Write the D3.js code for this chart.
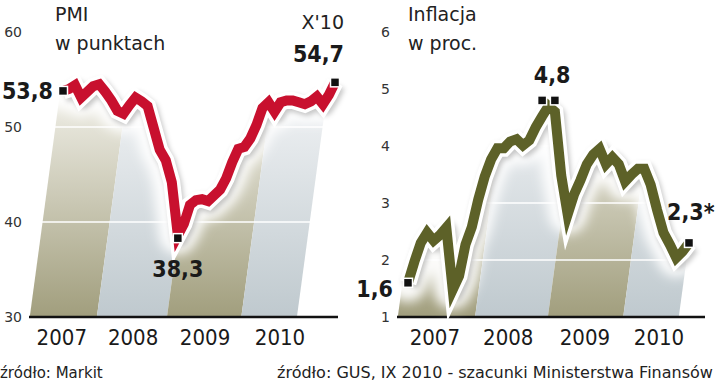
<!DOCTYPE html>
<html>
<head>
<meta charset="utf-8">
<script src="https://cdn.jsdelivr.net/npm/d3@7"></script>
<style>
body { margin: 0; background: #fff; }
svg text { font-family: "DejaVu Sans", sans-serif; fill: #1a1a1a; }
.num { font-family: "DejaVu Sans Condensed", "DejaVu Sans", sans-serif; font-stretch: condensed; font-weight: bold; font-size: 23px; }
.year { font-family: "DejaVu Sans Condensed", "DejaVu Sans", sans-serif; font-stretch: condensed; font-size: 22px; }
.title { font-size: 19px; fill: #222; }
.tick text { font-size: 14px; fill: #333; }
.src { fill: #222; }
</style>
</head>
<body>
<div id="chart"></div>
<script>
"use strict";

// PMI, monthly I 2007 - X 2010
var pmiValues = [53.8, 54.0, 54.4, 53.1, 53.7, 54.3, 54.5, 53.7, 52.8, 51.7,
    51.4, 52.3, 53.1, 52.7, 52.2, 49.9, 47.6, 46.5, 44.2, 38.6,
    39.8, 41.8, 42.3, 42.4, 42.2, 42.8, 43.4, 44.6, 46.3, 47.7,
    47.9, 48.8, 50.2, 52.0, 52.6, 51.6, 52.6, 52.8, 52.8, 52.6,
    52.4, 52.7, 53.2, 52.4, 53.4, 54.7];
var pmiTicks = [30, 40, 50, 60];
var pmiYears = ["2007", "2008", "2009", "2010"];
var pmiYearEdges = [-5.5, 5.6, 17.2, 29.5, 38.7];   // band limits on the baseline, in months
var pmiYearPos = [-0.2, 11.6, 23.5, 35.9];
var pmiMarkIdx = [0, 19, 45];
var pmiMarkVal = [53.8, 38.3, 54.7];
var pmiMarkText = ["53,8", "38,3", "54,7"];

// inflacja, monthly I 2007 - IX 2010
var infValues = [1.6, 1.97, 2.3, 2.48, 2.34, 2.44, 2.57, 1.48, 1.72, 2.27,
    2.58, 3.06, 3.46, 3.76, 3.96, 3.96, 4.08, 4.12, 4.01, 4.1,
    4.33, 4.52, 4.7, 4.6, 3.48, 2.8, 3.15, 3.4, 3.68, 3.85,
    3.95, 3.68, 3.8, 3.68, 3.38, 3.5, 3.6, 3.6, 3.32, 2.88,
    2.48, 2.27, 2.04, 2.15, 2.3];
var infTicks = [1, 2, 3, 4, 5, 6];
var infYears = ["2007", "2008", "2009", "2010"];
var infYearEdges = [-1.6, 10.5, 21.9, 33.7, 42.4];
var infYearPos = [4.2, 15.7, 27.7, 39.3];
var infMarkIdx = [0, 21, 23, 44];
var infMarkVal = [1.6, 4.8, 4.8, 2.3];
var infMarkText = ["1,6", "4,8", "", "2,3*"];

var W = 720, H = 384;
var shear = 0.135;

var svg = d3.select("#chart").append("svg")
    .attr("width", W)
    .attr("height", H);

var defs = svg.append("defs");
defs.append("filter").attr("id", "glow").attr("x", "-20%").attr("y", "-20%").attr("width", "140%").attr("height", "140%")
    .append("feGaussianBlur").attr("stdDeviation", 6);
defs.append("filter").attr("id", "shadow").attr("x", "-20%").attr("y", "-20%").attr("width", "140%").attr("height", "140%")
    .append("feGaussianBlur").attr("stdDeviation", 2.5);

function gradient(id, top, bottom){
    var g = defs.append("linearGradient").attr("id", id)
        .attr("gradientUnits", "userSpaceOnUse")
        .attr("x1", 0).attr("x2", 0).attr("y1", 90).attr("y2", 317);
    g.append("stop").attr("offset", 0).attr("stop-color", top);
    g.append("stop").attr("offset", 1).attr("stop-color", bottom);
}
gradient("olive", "#f1f0e9", "#a19e7d");
gradient("steel", "#f1f3f5", "#bfc9ce");

function drawChart(c){
    var x = d3.scaleLinear().domain([0, c.values.length - 1]).range(c.xRange);
    var y = d3.scaleLinear().domain(c.yDomain).range([317, 32]);
    var y0 = y(c.yDomain[0]);
    var g = svg.append("g");

    // area under the line, used as a clip for the year bands
    var pts = c.values.map(function(v, i){ return {i: i, v: v}; });
    var ext = [{i: x.invert(c.xRange[0] - 60), v: c.values[0]}]
        .concat(pts)
        .concat([{i: x.invert(c.xRange[1] + 60), v: c.values[c.values.length - 1]}]);
    var area = d3.area().x(function(d){ return x(d.i); }).y0(y0).y1(function(d){ return y(d.v); });
    defs.append("clipPath").attr("id", c.id + "clip")
        .append("path").attr("d", area(ext));

    var bands = g.append("g").attr("clip-path", "url(#" + c.id + "clip)");
    var top = 40, dx = shear * (y0 - top);
    bands.selectAll("path.band").data(c.years).enter()
        .append("path")
            .attr("class", "band")
            .attr("d", function(d, i){
                var a = x(c.edges[i]), b = x(c.edges[i + 1]);
                return "M" + a + "," + y0 + "L" + b + "," + y0 + "L" + (b + dx) + "," + top + "L" + (a + dx) + "," + top + "Z";
            })
            .attr("fill", function(d, i){ return i % 2 === 0 ? "url(#olive)" : "url(#steel)"; });

    bands.selectAll("line.grid").data(c.ticks.slice(1)).enter()
        .append("line")
            .attr("x1", c.base[0]).attr("x2", c.base[1] + 40)
            .attr("y1", function(d){ return y(d); })
            .attr("y2", function(d){ return y(d); })
            .attr("stroke", "#fff")
            .attr("stroke-width", 1.5);

    g.append("line")
        .attr("x1", c.base[0]).attr("x2", c.base[1])
        .attr("y1", y0).attr("y2", y0)
        .attr("stroke", "#111")
        .attr("stroke-width", 2.5);

    var line = d3.line().x(function(d){ return x(d.i); }).y(function(d){ return y(d.v); });
    var d = line(pts);

    g.append("path").attr("d", d).attr("fill", "none")
        .attr("stroke", "#fff").attr("stroke-width", 38).attr("stroke-opacity", 0.95)
        .attr("stroke-linejoin", "round").attr("stroke-linecap", "round")
        .attr("filter", "url(#glow)");
    g.append("path").attr("d", d).attr("fill", "none")
        .attr("transform", "translate(2,3)")
        .attr("stroke", "#000").attr("stroke-width", 17).attr("stroke-opacity", 0.22)
        .attr("stroke-linejoin", "round")
        .attr("filter", "url(#shadow)");
    g.append("path").attr("d", d).attr("fill", "none")
        .attr("stroke", "#fff").attr("stroke-width", 17)
        .attr("stroke-linejoin", "miter").attr("stroke-miterlimit", 6);
    g.append("path").attr("d", d).attr("fill", "none")
        .attr("stroke", c.color).attr("stroke-width", 10)
        .attr("stroke-linejoin", "miter").attr("stroke-miterlimit", 6);

    // markers and value labels
    g.selectAll("rect.mark").data(c.markIdx).enter()
        .append("rect")
            .attr("class", "mark")
            .attr("x", function(d){ return x(d) - 4.5; })
            .attr("y", function(d, i){ return y(c.markVal[i]) - 4.5; })
            .attr("width", 9).attr("height", 9)
            .attr("fill", "#111")
            .attr("stroke", "#fff").attr("stroke-width", 1.5);

    g.selectAll("text.num").data(c.markIdx).enter()
        .append("text")
            .attr("class", "num")
            .attr("x", function(d, i){ return x(d) + c.labelPos[i][0]; })
            .attr("y", function(d, i){ return y(c.markVal[i]) + c.labelPos[i][1]; })
            .attr("text-anchor", function(d, i){ return c.labelPos[i][2]; })
            .text(function(d, i){ return c.markText[i]; });

    // y axis labels
    g.append("g")
        .attr("transform", "translate(" + c.base[0] + ",0)")
        .call(d3.axisLeft(y).tickValues(c.ticks).tickFormat(d3.format("d")).tickSize(0).tickPadding(c.pad))
        .call(function(a){ a.select(".domain").remove(); })
        .selectAll("text").attr("font-family", null).attr("font-size", null);

    g.selectAll("text.year").data(c.years).enter()
        .append("text")
            .attr("class", "year")
            .attr("x", function(d, i){ return x(c.yearPos[i]); })
            .attr("y", 345)
            .attr("text-anchor", "middle")
            .text(function(d){ return d; });

    g.selectAll("text.title").data(c.title).enter()
        .append("text")
            .attr("class", "title")
            .attr("x", c.titleX)
            .attr("y", function(d, i){ return 21 + i * 29; })
            .text(function(d){ return d; });

    g.append("text")
        .attr("class", "src")
        .attr("x", c.srcX)
        .attr("y", 378)
        .style("font-size", c.srcSize + "px")
        .text(c.source);
    return {x: x, y: y, g: g};
}

var left = drawChart({
    id: "pmi", values: pmiValues, yDomain: [30, 60], ticks: pmiTicks,
    xRange: [63, 335], base: [29, 338], pad: 7,
    years: pmiYears, edges: pmiYearEdges, yearPos: pmiYearPos,
    markIdx: pmiMarkIdx, markVal: pmiMarkVal, markText: pmiMarkText,
    labelPos: [[-10, 8, "end"], [0, 39, "middle"], [9, -20, "end"]],
    color: "#c8102e", title: ["PMI", "w punktach"], titleX: 55,
    source: "źródło: Markit", srcX: 0, srcSize: 15
});
left.g.append("text")
    .attr("class", "title")
    .attr("x", left.x(pmiValues.length - 1) + 9)
    .attr("y", 29)
    .attr("text-anchor", "end")
    .text("X'10");

drawChart({
    id: "inf", values: infValues, yDomain: [1, 6], ticks: infTicks,
    xRange: [408, 689], base: [397, 705], pad: 7,
    years: infYears, edges: infYearEdges, yearPos: infYearPos,
    markIdx: infMarkIdx, markVal: infMarkVal, markText: infMarkText,
    labelPos: [[-15, 14, "end"], [10, -17, "middle"], [0, 0, "middle"], [-22, -23, "start"]],
    color: "#5d6128", title: ["Inflacja", "w proc."], titleX: 408,
    source: "źródło: GUS, IX 2010 - szacunki Ministerstwa Finansów", srcX: 277, srcSize: 16
});
</script>
</body>
</html>
